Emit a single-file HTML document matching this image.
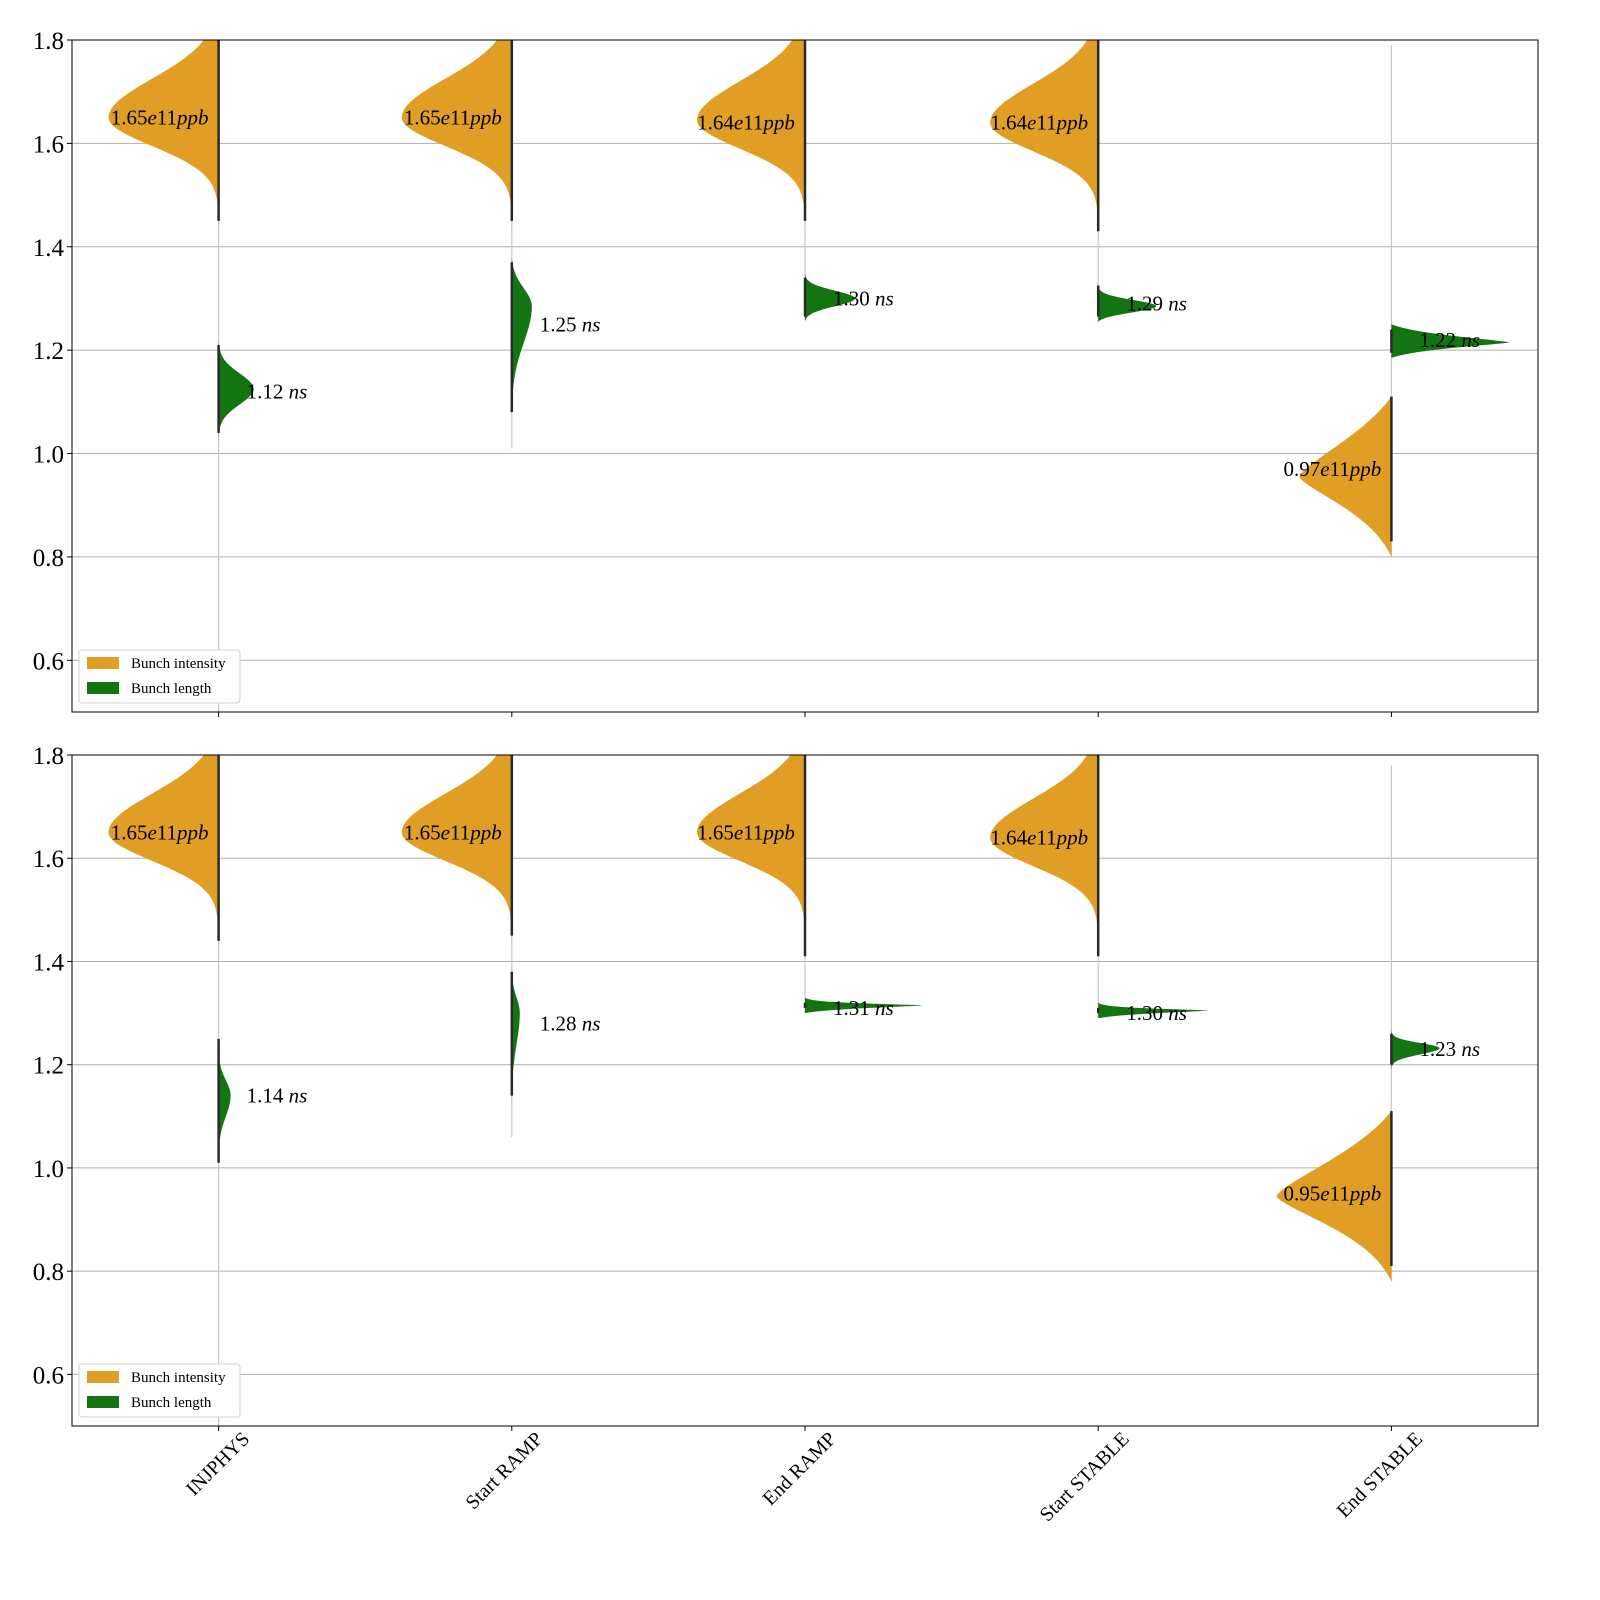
<!DOCTYPE html>
<html><head><meta charset="utf-8"><style>
body{margin:0;background:#fff}
svg{display:block;font-family:"Liberation Serif",serif}
</style></head><body>
<svg id="chart" width="1600" height="1600" viewBox="0 0 1600 1600"></svg>
<script>
const categories=["INJPHYS","Start RAMP","End RAMP","Start STABLE","End STABLE"];
const yTicks=[0.6,0.8,1.0,1.2,1.4,1.6,1.8];
// top panel
const topIntMode=[1.65,1.65,1.645,1.64,0.955];
const topIntLabel=[1.65,1.65,1.64,1.64,0.97];
const topIntLo=[1.42,1.42,1.42,1.40,0.80];
const topIntHi=[1.85,1.85,1.85,1.85,1.11];
const topIntWidth=[110,110,108,108,92];
const topLenMode=[1.125,1.285,1.30,1.285,1.215];
const topLenLabel=[1.12,1.25,1.30,1.29,1.22];
const topLenLo=[1.03,1.07,1.255,1.255,1.185];
const topLenHi=[1.22,1.38,1.35,1.335,1.25];
const topLenWidth=[35,20,50,58,118];
const topLenSigLo=[0.03,0.07,0.015,0.012,0.01];
const topLenSigHi=[0.03,0.035,0.015,0.012,0.012];
const topWhiskLo=[0.5,1.01,1.26,1.255,0.80];
const topWhiskHi=[1.8,1.8,1.8,1.8,1.79];
// bottom panel
const botIntMode=[1.65,1.65,1.65,1.64,0.945];
const botIntLabel=[1.65,1.65,1.65,1.64,0.95];
const botIntLo=[1.41,1.42,1.38,1.38,0.78];
const botIntHi=[1.85,1.85,1.85,1.85,1.11];
const botIntWidth=[110,110,108,108,115];
const botLenMode=[1.14,1.30,1.315,1.305,1.232];
const botLenLabel=[1.14,1.28,1.31,1.30,1.23];
const botLenLo=[1.0,1.13,1.30,1.29,1.19];
const botLenHi=[1.26,1.39,1.33,1.32,1.27];
const botLenWidth=[12,8,118,110,48];
const botLenSigLo=[0.04,0.06,0.005,0.005,0.012];
const botLenSigHi=[0.03,0.03,0.003,0.003,0.01];
const botWhiskLo=[0.5,1.06,1.30,1.29,0.78];
const botWhiskHi=[1.8,1.8,1.8,1.8,1.78];

const NS="http://www.w3.org/2000/svg";
const svg=document.getElementById('chart');
function mk(tag,attrs,parent){const e=document.createElementNS(NS,tag);for(const k in attrs)e.setAttribute(k,attrs[k]);(parent||svg).appendChild(e);return e;}
const X0=72,X1=1538;
function xS(i){return X0+(i+0.5)*(X1-X0)/5;}
const ORANGE="#e09e24",GREEN="#127512";

function violinPath(cx,mode,lo,hi,w,sl,sh,p,dir,yS,taper){
  const f=v=>{const s=v<mode?sl:sh;return Math.exp(-Math.pow(Math.abs((v-mode)/s),p)/2);};
  const fLo=f(lo),fHi=f(hi);
  let pts=[];const n=160;
  for(let k=0;k<=n;k++){const v=lo+(hi-lo)*k/n;let r=f(v);
    if(taper){const e=v<mode?fLo:fHi;r=Math.max(0,(r-e)/(1-e));}
    pts.push([cx+dir*w*r,yS(v)]);}
  let d="M"+cx+","+yS(lo);
  pts.forEach(q=>d+="L"+q[0].toFixed(1)+","+q[1].toFixed(1));
  d+="L"+cx+","+yS(hi)+"Z";return d;
}

function panel(id,top,bottom,D,showX){
  const yS=v=>top+(1.8-v)*(bottom-top)/1.3;
  const g=mk('g',{});  
  const cp=mk('clipPath',{id:id+'-clip'},g);mk('rect',{x:X0,y:top,width:X1-X0,height:bottom-top},cp);
  yTicks.forEach(t=>{
    const gl=mk('line',{x1:X0,x2:X1,y1:yS(t),y2:yS(t),stroke:"#b0b0b0","stroke-width":1},g);
    
    mk('line',{x1:X0-5,x2:X0,y1:yS(t),y2:yS(t),stroke:"#000"},g);
    const tl=mk('text',{x:X0-8,y:yS(t)+9,"text-anchor":"end","font-size":25},g);tl.textContent=t.toFixed(1);
    
  });
  const pg=mk('g',{"clip-path":"url(#"+id+"-clip)"},g);
  categories.forEach((c,i)=>{
    const cx=xS(i);
    const wl=mk('line',{x1:cx,x2:cx,y1:yS(D.whiskHi[i]),y2:yS(D.whiskLo[i]),stroke:"#c8c8c8","stroke-width":1.2},pg);
    
    const isLow=D.intMode[i]<1.2;
    const oi=mk('path',{d:violinPath(cx,D.intMode[i],D.intLo[i],D.intHi[i],D.intWidth[i],0.055,0.075,isLow?1.4:2,-1,yS,isLow),fill:ORANGE},pg);
    
    const gl=mk('path',{d:violinPath(cx,D.lenMode[i],D.lenLo[i],D.lenHi[i],D.lenWidth[i],D.lenSigLo[i],D.lenSigHi[i],D.lenWidth[i]>100?1.3:2,1,yS,true),fill:GREEN},pg);
    
    const s1=mk('line',{x1:cx,x2:cx,y1:yS(D.intHi[i]),y2:yS(D.intLo[i]+0.03),stroke:"#2a2a2a","stroke-width":2.5},pg);
    
    const s2=mk('line',{x1:cx,x2:cx,y1:yS(D.lenHi[i]-0.01),y2:yS(D.lenLo[i]+0.01),stroke:"#2a2a2a","stroke-width":2.5},pg);
    
    const t1=mk('text',{x:cx-59,y:yS(D.intLabel[i])+7,"text-anchor":"middle","font-size":21},g);
    t1.innerHTML=D.intLabel[i].toFixed(2)+'<tspan font-style="italic">e</tspan>11<tspan font-style="italic">ppb</tspan>';
    
    const t2=mk('text',{x:cx+28,y:yS(D.lenLabel[i])+7,"font-size":21},g);
    t2.innerHTML=D.lenLabel[i].toFixed(2)+' <tspan font-style="italic">ns</tspan>';
    
    mk('line',{x1:cx,x2:cx,y1:bottom,y2:bottom+5,stroke:"#000"},g);
    if(showX){const xl=mk('text',{x:0,y:0,"text-anchor":"end","font-size":20,transform:`translate(${cx+32},${bottom+14}) rotate(-45)`},g);xl.textContent=c;
      }
  });
  const fr=mk('rect',{x:X0,y:top,width:X1-X0,height:bottom-top,fill:"none",stroke:"#000","stroke-width":1},g);
  
  const lg=mk('g',{},g);
  mk('rect',{x:79,y:bottom-62,width:161,height:53,fill:"#fff",stroke:"#d0d0d0",rx:3},lg);
  [["Bunch intensity",ORANGE],["Bunch length",GREEN]].forEach((e,k)=>{
    const en=mk('g',{},lg);
    mk('rect',{x:87,y:bottom-55+k*25,width:32,height:12,fill:e[1]},en);
    const t=mk('text',{x:131,y:bottom-44+k*25,"font-size":15},en);t.textContent=e[0];
  });
}
panel('top-panel',40,712,{intMode:topIntMode,intLabel:topIntLabel,intLo:topIntLo,intHi:topIntHi,intWidth:topIntWidth,
  lenMode:topLenMode,lenLabel:topLenLabel,lenLo:topLenLo,lenHi:topLenHi,lenWidth:topLenWidth,lenSigLo:topLenSigLo,lenSigHi:topLenSigHi,
  whiskLo:topWhiskLo,whiskHi:topWhiskHi},false);
panel('bottom-panel',755,1426,{intMode:botIntMode,intLabel:botIntLabel,intLo:botIntLo,intHi:botIntHi,intWidth:botIntWidth,
  lenMode:botLenMode,lenLabel:botLenLabel,lenLo:botLenLo,lenHi:botLenHi,lenWidth:botLenWidth,lenSigLo:botLenSigLo,lenSigHi:botLenSigHi,
  whiskLo:botWhiskLo,whiskHi:botWhiskHi},true);
</script>
</body></html>
